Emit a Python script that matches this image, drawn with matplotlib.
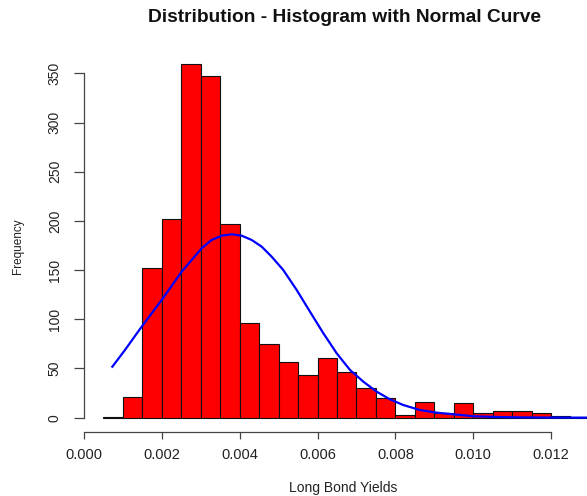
import matplotlib
matplotlib.use("Agg")
import matplotlib.pyplot as plt

# histogram bins (left edges, width 0.0005) and counts
bin_left = [0.0005, 0.0010, 0.0015, 0.0020, 0.0025, 0.0030, 0.0035, 0.0040,
            0.0045, 0.0050, 0.0055, 0.0060, 0.0065, 0.0070, 0.0075, 0.0080,
            0.0085, 0.0090, 0.0095, 0.0100, 0.0105, 0.0110, 0.0115, 0.0120,
            0.0125]
counts = [1, 21, 152, 202, 359, 347, 197, 96, 75, 57, 43, 61, 46, 30, 20, 3,
          16, 5, 15, 5, 7, 7, 5, 2, 1]
bin_width = 0.0005

# points
curve_x = [0.000728, 0.001053, 0.001482, 0.001996, 0.00251, 0.003024,
           0.00328, 0.00354, 0.003795, 0.00405, 0.00431, 0.004566, 0.004823,
           0.005120, 0.005465, 0.005807, 0.00615, 0.006493, 0.006835,
           0.007177, 0.00752, 0.00786, 0.0082, 0.00863, 0.00906, 0.0094,
           0.0100, 0.0105, 0.0110, 0.0120, 0.0130, 0.0135]
curve_y = [51.8, 68.8, 92.5, 119.6, 148.4, 172.2, 180.6, 185.0, 186.4, 185.0,
           180.6, 173.8, 163.6, 150.1, 129.8, 107.7, 85.8, 65.4, 48.5, 36.6,
           26.4, 18.7, 12.9, 7.8, 5.1, 3.8, 1.5, 0.8, 0.4, 0.1, 0.0, 0.0]

x_ticks = [0.000, 0.002, 0.004, 0.006, 0.008, 0.010, 0.012]
x_tick_labels = ["0.000", "0.002", "0.004", "0.006", "0.008", "0.010", "0.012"]
y_ticks = [0, 50, 100, 150, 200, 250, 300, 350]

W, H = 587, 496
plt.rcParams['font.family'] = ['Liberation Sans', 'DejaVu Sans']

fig = plt.figure(figsize=(W / 100, H / 100), dpi=100)
# plot region in pixels: x 84 -> 609.4, y 50.3 -> 431.8
ax = fig.add_axes([84 / W, (H - 431.8) / H, (609.4 - 84) / W, (431.8 - 50.3) / H])
ax.set_xlim(0, 0.0135)
ax.set_ylim(-14.36, 373.4)

ax.bar(bin_left, counts, width=bin_width, align='edge', color='#ff0000',
       edgecolor='#111111', linewidth=0.8, zorder=2)
ax.plot(curve_x, curve_y, color='#0000ff', linewidth=1.6, zorder=3)

for side in ['top', 'right']:
    ax.spines[side].set_visible(False)
ax.spines['left'].set_bounds(0, 350)
ax.spines['bottom'].set_bounds(0, 0.012)
for side in ['left', 'bottom']:
    ax.spines[side].set_color('#444444')
    ax.spines[side].set_linewidth(0.9)

ax.set_xticks(x_ticks)
ax.set_xticklabels(x_tick_labels)
ax.set_yticks(y_ticks)
ax.tick_params(axis='x', length=5, width=0.9, color='#444444', pad=7,
               labelsize=10.5, labelcolor='#222222')
ax.tick_params(axis='y', length=7, width=0.9, color='#444444', pad=9,
               labelsize=10, labelcolor='#222222', labelrotation=90)
for lab in ax.get_yticklabels():
    lab.set_va('center')

fig.text(345 / W, 1 - 18 / H, "Distribution - Histogram with Normal Curve",
         ha='center', va='center', fontsize=13.8, fontweight='bold',
         color='#111111')
fig.text(343 / W, 1 - 488 / H, "Long Bond Yields", ha='center', va='center',
         fontsize=10, color='#222222')
fig.text(18 / W, 1 - 246 / H, "Frequency", ha='center', va='center',
         rotation=90, fontsize=8.5, color='#222222')

fig.savefig("out.png", dpi=100)
